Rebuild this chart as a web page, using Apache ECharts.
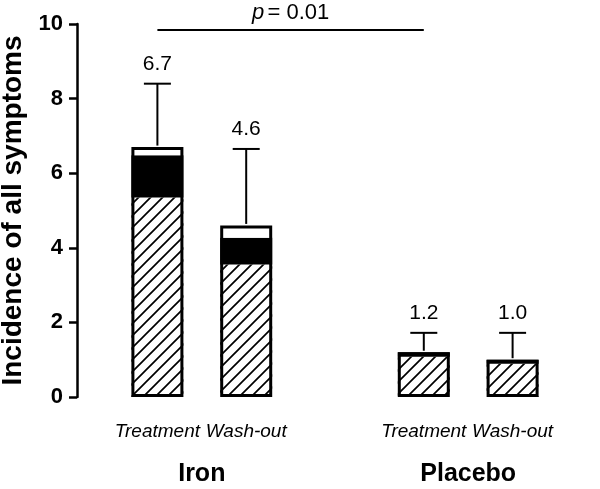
<!DOCTYPE html>
<html>
<head>
<meta charset="utf-8">
<script src="https://cdn.jsdelivr.net/npm/echarts@6/dist/echarts.min.js"></script>
<style>html,body{margin:0;padding:0;background:#fff}#c{width:600px;height:489px}</style>
</head>
<body>
<div id="c"></div>
<script>
// ---- data ----
var groups = ['Iron', 'Placebo'];
var categories = ['Treatment', 'Wash-out', 'Treatment', 'Wash-out'];
var groupOf = [0, 0, 1, 1];
var hatchedTop = [5.35, 3.55, 1.08, 0.89];   // top of hatched segment
var blackTop   = [6.48, 4.27, 1.2, 1.0];     // top of black segment
var totals     = [6.7, 4.6, 1.2, 1.0];       // bar total (labelled)
var errorTop   = [8.4, 6.65, 1.72, 1.72];    // upper error bar
var valueLabels = ['6.7', '4.6', '1.2', '1.0'];
var yTicks = [0, 2, 4, 6, 8, 10];
var pValueText = 'p = 0.01';
var pLineY = 9.84;

// ---- build axis data with a spacer between groups ----
var axisData = [], slot = [];
categories.forEach(function (c, i) {
  if (i > 0 && groupOf[i] !== groupOf[i - 1]) axisData.push('');
  slot.push(axisData.length);
  axisData.push(groups[groupOf[i]] + '|' + c);
});
function full(arr) {
  var out = axisData.map(function () { return '-'; });
  arr.forEach(function (v, i) { out[slot[i]] = v; });
  return out;
}
var seg1 = hatchedTop;
var seg2 = blackTop.map(function (v, i) { return +(v - hatchedTop[i]).toFixed(3); });
var seg3 = totals.map(function (v, i) { return +(v - blackTop[i]).toFixed(3); });
var groupCenters = groups.map(function (g, gi) {
  var idx = [];
  groupOf.forEach(function (k, i) { if (k === gi) idx.push(slot[i]); });
  return idx.reduce(function (a, b) { return a + b; }, 0) / idx.length;
});

// hatch pattern
var pc = document.createElement('canvas');
var T = 12;
pc.width = T; pc.height = T;
var g = pc.getContext('2d');
g.fillStyle = '#fff'; g.fillRect(0, 0, T, T);
g.strokeStyle = '#000'; g.lineWidth = 1.7;
g.beginPath();
g.moveTo(-2, T + 2); g.lineTo(T + 2, -2);
g.moveTo(-2, 2); g.lineTo(2, -2);
g.moveTo(T - 2, T + 2); g.lineTo(T + 2, T - 2);
g.stroke();

var FONT = '"Liberation Sans", Arial, Helvetica, sans-serif';
var chart = echarts.init(document.getElementById('c'), null, { renderer: 'canvas' });
var BW = 52;

var errData = full(errorTop).map(function (e, k) {
  if (e === '-') return null;
  var i = slot.indexOf(k);
  return [k, totals[i], e, i];
}).filter(Boolean);

chart.setOption({
  animation: false,
  grid: { left: 113, right: 43, top: 24, bottom: 92, containLabel: false, outerBoundsMode: 'none' },
  xAxis: [{
    type: 'category',
    data: axisData,
    axisLine: { show: false, onZero: false },
    axisTick: { show: false },
    axisLabel: {
      interval: 0, margin: 25,
      fontFamily: FONT, fontSize: 19, fontStyle: 'italic', color: '#000',
      formatter: function (v) { return v ? v.split('|')[1] : ''; }
    }
  }, {
    type: 'value',
    min: -0.5, max: axisData.length - 0.5,
    position: 'bottom',
    axisLine: { show: false, onZero: false },
    axisTick: { show: false },
    splitLine: { show: false },
    axisLabel: {
      customValues: groupCenters,
      margin: 65,
      fontFamily: FONT, fontSize: 25, fontWeight: 'bold', color: '#000',
      formatter: function (v) {
        var gi = groupCenters.indexOf(v);
        return gi >= 0 ? groups[gi] : '';
      }
    }
  }],
  yAxis: {
    type: 'value',
    min: 0, max: 10, interval: 2,
    offset: 36,
    name: 'Incidence of all symptoms',
    nameLocation: 'middle',
    nameGap: 46,
    nameTextStyle: { fontFamily: FONT, fontSize: 28, fontWeight: 'bold', color: '#000' },
    axisLine: { show: true, onZero: false, lineStyle: { color: '#000', width: 2.5 } },
    axisTick: { show: true, length: 8, lineStyle: { color: '#000', width: 2.5 } },
    splitLine: { show: false },
    axisLabel: {
      margin: 14,
      fontFamily: FONT, fontSize: 22, fontWeight: 'bold', color: '#000',
      customValues: yTicks
    }
  },
  series: [
    { type: 'bar', stack: 'a', barWidth: BW, data: full(seg1),
      itemStyle: { color: { image: pc, repeat: 'repeat' } } },
    { type: 'bar', stack: 'a', barWidth: BW, data: full(seg2),
      itemStyle: { color: '#000' } },
    { type: 'bar', stack: 'a', barWidth: BW, data: full(seg3),
      itemStyle: { color: '#fff' } },
    { type: 'bar', barWidth: BW, barGap: '-100%', data: full(totals), z: 3,
      itemStyle: { color: 'rgba(0,0,0,0)', borderColor: '#000', borderWidth: 3 },
      markLine: {
        silent: true, symbol: 'none',
        lineStyle: { color: '#000', width: 2, type: 'solid' },
        label: {
          show: true, position: 'middle', distance: 6,
          formatter: '{i|p} {n|' + pValueText.slice(1).trim() + '}',
          rich: {
            i: { fontFamily: FONT, fontSize: 22, fontStyle: 'italic', color: '#000' },
            n: { fontFamily: FONT, fontSize: 22, color: '#000' }
          }
        },
        data: [[{ coord: [slot[0], pLineY] }, { coord: [slot[2], pLineY] }]]
      }
    },
    { type: 'custom', z: 4,
      data: errData,
      renderItem: function (params, api) {
        var x = api.value(0);
        var p0 = api.coord([x, api.value(1)]);
        var p1 = api.coord([x, api.value(2)]);
        var half = 13.5;
        var i = api.value(3);
        return { type: 'group', children: [
          { type: 'line', shape: { x1: p0[0], y1: p0[1] - 1.5, x2: p1[0], y2: p1[1] },
            style: { stroke: '#000', lineWidth: 2 } },
          { type: 'line', shape: { x1: p1[0] - half, y1: p1[1], x2: p1[0] + half, y2: p1[1] },
            style: { stroke: '#000', lineWidth: 2 } },
          { type: 'text', x: p1[0], y: p1[1] - 9,
            style: { text: valueLabels[i], fontFamily: FONT, fontSize: 21, fill: '#000',
                     align: 'center', verticalAlign: 'bottom' } }
        ] };
      }
    }
  ]
});
</script>
</body>
</html>
